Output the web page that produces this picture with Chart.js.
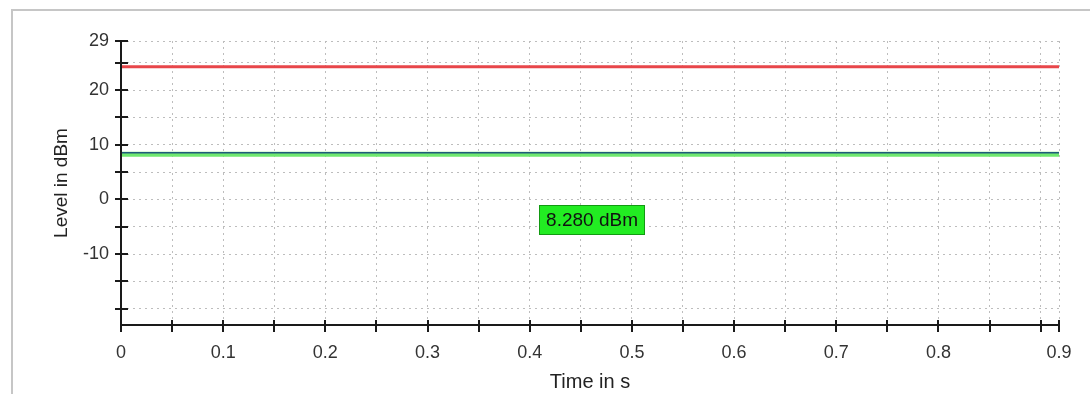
<!DOCTYPE html>
<html><head><meta charset="utf-8">
<style>
html,body{margin:0;padding:0;background:#fff;}
#wrap{position:relative;width:1090px;height:394px;overflow:hidden;}
#frame{position:absolute;left:11px;top:9px;width:1200px;height:500px;border-left:2px solid #c6c6c6;border-top:2px solid #c6c6c6;}
canvas{position:absolute;left:0;top:0;}
</style>
<script src="https://cdn.jsdelivr.net/npm/chart.js@4.4.0/dist/chart.umd.min.js"></script>
</head><body>
<div id="wrap"><div id="frame"></div><canvas id="c" width="1090" height="394"></canvas></div>
<script>
// ---- data ----
const timeRange = [0, 0.918];
const refLevel = [24.3, 24.3];
const measLevel = [8.28, 8.28];
const traceLevel = [8.55, 8.55];
const xTickValues = [0,0.05,0.1,0.15,0.2,0.25,0.3,0.35,0.4,0.45,0.5,0.55,0.6,0.65,0.7,0.75,0.8,0.85,0.9,0.918];
const xTickLabels = ['0','','0.1','','0.2','','0.3','','0.4','','0.5','','0.6','','0.7','','0.8','','','0.9'];
const yTickValues = [-20,-15,-10,-5,0,5,10,15,20,25,29];
const yTickLabels = ['','','-10','','0','','10','','20','','29'];
const yRange = [-23, 29];
const markerPos = [0.461, -3.7];
const markerText = measLevel[0].toFixed(3) + ' dBm';

const FONT = '"Liberation Sans", Arial, sans-serif';
const pts = (ys) => timeRange.map((x, i) => ({x: x, y: ys[i]}));

const axesPlugin = {
  id: 'axesPlugin',
  afterDatasetsDraw(chart) {
    const ctx = chart.ctx, xs = chart.scales.x, ys = chart.scales.y;
    const a = chart.chartArea;
    ctx.save();
    ctx.strokeStyle = '#1a1a1a';
    ctx.lineWidth = 2;
    ctx.beginPath();
    ctx.moveTo(a.left, a.top); ctx.lineTo(a.left, a.bottom + 7);
    ctx.moveTo(a.left, a.bottom); ctx.lineTo(a.right, a.bottom);
    yTickValues.forEach(v => {
      const p = Math.round(ys.getPixelForValue(v));
      ctx.moveTo(a.left - 6, p); ctx.lineTo(a.left + 7, p);
    });
    xTickValues.forEach(v => {
      const p = Math.round(xs.getPixelForValue(v));
      ctx.moveTo(p, a.bottom - 5); ctx.lineTo(p, a.bottom + 7);
    });
    ctx.stroke();
    ctx.restore();
  },
  afterDraw(chart) {
    const ctx = chart.ctx, xs = chart.scales.x, ys = chart.scales.y;
    const cx = xs.getPixelForValue(markerPos[0]);
    const cy = ys.getPixelForValue(markerPos[1]);
    ctx.save();
    ctx.font = '19px ' + FONT;
    const w = ctx.measureText(markerText).width + 14, h = 30;
    ctx.fillStyle = '#22ec22';
    ctx.fillRect(Math.round(cx - w/2), Math.round(cy - h/2), Math.round(w), h);
    ctx.strokeStyle = '#129a12';
    ctx.lineWidth = 1;
    ctx.strokeRect(Math.round(cx - w/2) + 0.5, Math.round(cy - h/2) + 0.5, Math.round(w) - 1, h - 1);
    ctx.fillStyle = '#111';
    ctx.textAlign = 'center';
    ctx.textBaseline = 'middle';
    ctx.fillText(markerText, cx, cy + 1);
    ctx.restore();
  }
};

new Chart(document.getElementById('c'), {
  type: 'line',
  data: {
    datasets: [
      {data: pts(traceLevel), borderColor: '#1f5a7a', borderWidth: 1.5, pointRadius: 0, tension: 0},
      {data: pts(measLevel), borderColor: '#6fe86f', borderWidth: 5, pointRadius: 0, tension: 0},
      {data: pts(refLevel), borderColor: '#e8464a', borderWidth: 3, pointRadius: 0, tension: 0}
    ]
  },
  options: {
    responsive: false,
    animation: false,
    devicePixelRatio: 1,
    layout: {padding: {top: 41, right: 31, left: 0, bottom: 0}},
    plugins: {legend: {display: false}, tooltip: {enabled: false}},
    scales: {
      x: {
        type: 'linear', min: timeRange[0], max: timeRange[1],
        afterBuildTicks: s => { s.ticks = xTickValues.map(v => ({value: v})); },
        afterFit: s => { s.height = 69; },
        ticks: {autoSkip: false, maxRotation: 0, padding: 17, color: '#333',
                font: {family: FONT, size: 18},
                callback: (v, i) => xTickLabels[i]},
        grid: {color: '#bdbdbd', lineWidth: 1, drawTicks: false},
        border: {display: false, dash: [2, 4]},
        title: {display: true, text: 'Time in s', color: '#222', font: {family: FONT, size: 20}, padding: {top: 0, bottom: 0}}
      },
      y: {
        type: 'linear', min: yRange[0], max: yRange[1],
        afterBuildTicks: s => { s.ticks = yTickValues.map(v => ({value: v})); },
        afterFit: s => { s.width = 121; },
        ticks: {autoSkip: false, padding: 12, color: '#333',
                font: {family: FONT, size: 18},
                callback: (v, i) => yTickLabels[i]},
        grid: {color: '#bdbdbd', lineWidth: 1, drawTicks: false},
        border: {display: false, dash: [2, 4]},
        title: {display: true, text: 'Level in dBm', color: '#222', font: {family: FONT, size: 19}, padding: {top: 50, bottom: 0}}
      }
    }
  },
  plugins: [axesPlugin]
});
</script>
</body></html>
